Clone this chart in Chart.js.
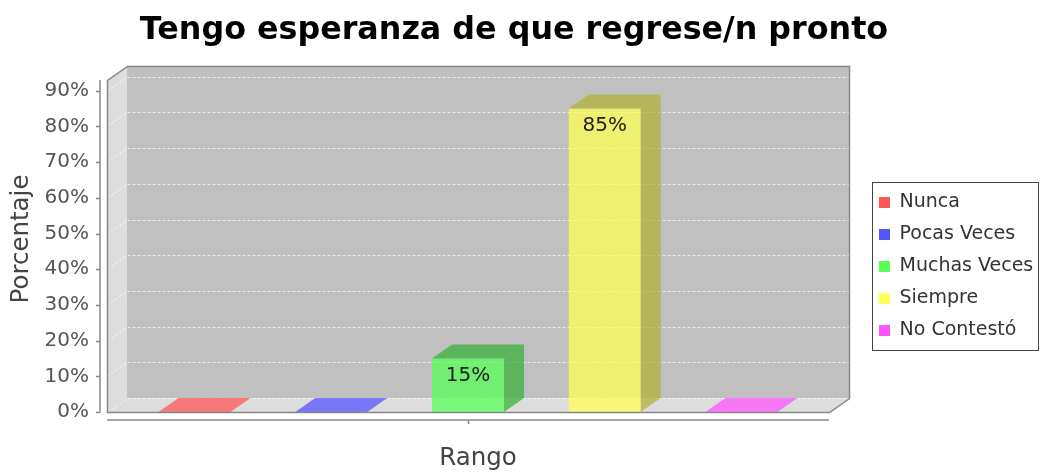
<!DOCTYPE html>
<html>
<head>
<meta charset="utf-8">
<title>Tengo esperanza de que regrese/n pronto</title>
<script src="https://cdn.jsdelivr.net/npm/chart.js@4.4.1/dist/chart.umd.min.js"></script>
<style>
  html, body { margin: 0; padding: 0; background: #fff; }
  #chart { display: block; }
</style>
</head>
<body>
<canvas id="chart" width="1041" height="473"></canvas>
<script>
// --- DATA ---
const chartTitle = 'Tengo esperanza de que regrese/n pronto';
const categories = ['Rango'];
const seriesNames = ['Nunca', 'Pocas Veces', 'Muchas Veces', 'Siempre', 'No Contestó'];
const seriesValues = [0, 0, 15, 85, 0];
const yTicks = [0, 10, 20, 30, 40, 50, 60, 70, 80, 90];
const yAxisTitle = 'Porcentaje';

// --- STYLE ---
const seriesColors = [[255, 85, 85], [85, 85, 255], [85, 255, 85], [255, 255, 85], [255, 85, 255]];
const BAR_ALPHA = 0.75;
const DX = 20, DY = 14;        // depth of the 3D effect
const LEGEND_W = 199;

const rgba = (c, a) => `rgba(${c[0]},${c[1]},${c[2]},${a})`;
const darker = c => c.map(v => Math.floor(v * 0.7));

function poly(ctx, pts) {
    ctx.beginPath();
    pts.forEach((p, i) => i ? ctx.lineTo(p[0], p[1]) : ctx.moveTo(p[0], p[1]));
    ctx.closePath();
}

// Draws the walls, gridlines, bar depth faces, labels and axis lines
const plot3d = {
    id: 'plot3d',
    beforeLayout(chart) {
        const lg = chart.legend;
        if (lg && !lg._fixedFit) {
            const fit = lg.fit;
            lg.fit = function () { fit.call(this); this.width = LEGEND_W; };
            lg._fixedFit = true;
        }
    },
    afterLayout(chart) {
        const lg = chart.legend;
        const w = lg.width, h = lg.height;
        lg.left = Math.round(chart.chartArea.right) + 37;
        lg.right = lg.left + w;
        lg.top = 180;
        lg.bottom = lg.top + h;
    },
    beforeDatasetsDraw(chart) {
        const { ctx, chartArea: a } = chart;
        const ys = chart.scales.y;
        const L = Math.round(a.left), R = Math.round(a.right), T = Math.round(a.top), B = Math.round(a.bottom);
        ctx.save();
        ctx.fillStyle = '#c0c0c0';
        poly(ctx, [[L, T], [L + DX, T - DY], [R + DX, T - DY], [R + DX, B - DY], [R, B], [L, B]]);
        ctx.fill();
        ctx.fillStyle = '#dddddd';
        poly(ctx, [[L, T], [L + DX, T - DY], [L + DX, B - DY], [L, B]]);
        ctx.fill();
        poly(ctx, [[L, B], [L + DX, B - DY], [R + DX, B - DY], [R, B]]);
        ctx.fill();

        ctx.strokeStyle = 'rgba(255,255,255,0.75)';
        ctx.lineWidth = 1;
        ctx.setLineDash([3, 2]);
        ys.ticks.forEach(t => {
            const py = Math.round(ys.getPixelForValue(t.value)) + 0.5;
            ctx.beginPath();
            ctx.moveTo(L, py);
            ctx.lineTo(L + DX, py - DY);
            ctx.lineTo(R + DX, py - DY);
            ctx.stroke();
        });
        ctx.restore();
    },
    afterDatasetsDraw(chart) {
        const { ctx, chartArea: a } = chart;
        const ys = chart.scales.y, xs = chart.scales.x;
        const L = Math.round(a.left), R = Math.round(a.right), T = Math.round(a.top), B = Math.round(a.bottom);
        ctx.save();

        chart.data.datasets.forEach((ds, i) => {
            const meta = chart.getDatasetMeta(i);
            meta.data.forEach((bar, j) => {
                const { x, y, base, width } = bar.getProps(['x', 'y', 'base', 'width'], true);
                const x0 = x - width / 2, x1 = x + width / 2;
                const v = ds.data[j];
                const c = seriesColors[i];
                ctx.fillStyle = v > 0 ? rgba(darker(c), BAR_ALPHA) : rgba(c, BAR_ALPHA);
                poly(ctx, [[x0, y], [x0 + DX, y - DY], [x1 + DX, y - DY], [x1, y]]);
                ctx.fill();
                if (v > 0) {
                    poly(ctx, [[x1, y], [x1 + DX, y - DY], [x1 + DX, base - DY], [x1, base]]);
                    ctx.fill();
                    ctx.fillStyle = '#222';
                    ctx.font = '20px "DejaVu Sans"';
                    ctx.textAlign = 'center';
                    ctx.textBaseline = 'middle';
                    ctx.fillText(v + '%', x, y + 17);
                }
            });
        });

        // plot outline
        ctx.strokeStyle = '#888';
        ctx.lineWidth = 1.5;
        poly(ctx, [[L + 0.5, T + 0.5], [L + DX + 0.5, T - DY + 0.5], [R + DX + 0.5, T - DY + 0.5],
                   [R + DX + 0.5, B - DY + 0.5], [R + 0.5, B + 0.5], [L + 0.5, B + 0.5]]);
        ctx.stroke();

        // value axis line and ticks
        ctx.strokeStyle = '#888';
        ctx.lineWidth = 1.5;
        ctx.beginPath();
        ctx.moveTo(L - 7, T);
        ctx.lineTo(L - 7, B + 0.5);
        ys.ticks.forEach(t => {
            const py = Math.round(ys.getPixelForValue(t.value)) + 0.5;
            ctx.moveTo(L - 11, py);
            ctx.lineTo(L - 7, py);
        });
        // category axis line and tick
        ctx.moveTo(L, B + 8);
        ctx.lineTo(R, B + 8);
        const cx = Math.round(xs.getPixelForValue(0)) + 0.5;
        ctx.moveTo(cx, B + 8);
        ctx.lineTo(cx, B + 12);
        ctx.stroke();

        // value axis title
        ctx.fillStyle = '#444';
        ctx.font = '24.5px "DejaVu Sans"';
        ctx.textAlign = 'center';
        ctx.textBaseline = 'middle';
        ctx.translate(22, (T - DY + B) / 2);
        ctx.rotate(-Math.PI / 2);
        ctx.fillText(yAxisTitle, 0, 0);
        ctx.restore();
    },
    afterDraw(chart) {
        const { ctx } = chart;
        const lg = chart.legend;
        ctx.save();
        ctx.strokeStyle = '#444';
        ctx.lineWidth = 1;
        ctx.strokeRect(lg.left + 6.5, lg.top + 2.5, 166, 168);
        ctx.restore();
    }
};

Chart.defaults.font.family = '"DejaVu Sans", sans-serif';

new Chart(document.getElementById('chart'), {
    type: 'bar',
    data: {
        labels: categories,
        datasets: seriesNames.map((name, i) => ({
            label: name,
            data: [seriesValues[i]],
            backgroundColor: rgba(seriesColors[i], BAR_ALPHA),
            borderWidth: 0,
            barPercentage: 0.5265,
            categoryPercentage: 0.947
        }))
    },
    options: {
        responsive: false,
        animation: false,
        devicePixelRatio: 1,
        layout: { padding: { left: 0, right: 13, top: 0, bottom: 0 } },
        plugins: {
            tooltip: { enabled: false },
            title: {
                display: true,
                text: chartTitle,
                color: '#000',
                font: { size: 31.75, weight: 'bold' },
                padding: { top: 11.65, bottom: 30.25 }
            },
            legend: {
                position: 'right',
                align: 'start',
                labels: {
                    boxWidth: 11,
                    boxHeight: 11,
                    padding: 13,
                    color: '#333',
                    font: { size: 19 },
                    generateLabels(chart) {
                        return chart.data.datasets.map((ds, i) => ({
                            text: ds.label,
                            fillStyle: rgba(seriesColors[i], 1),
                            strokeStyle: rgba(seriesColors[i], 1),
                            lineWidth: 0,
                            fontColor: '#333',
                            hidden: false,
                            datasetIndex: i
                        }));
                    }
                }
            }
        },
        scales: {
            x: {
                type: 'category',
                offset: true,
                grid: { display: false, drawTicks: false },
                border: { display: false },
                ticks: { color: '#444', font: { size: 24.5 }, padding: 31.8, labelOffset: DX / 2 },
                afterFit(s) { s.height = 61; }
            },
            y: {
                min: 0,
                max: 93,
                grid: { display: false, drawTicks: false },
                border: { display: false },
                ticks: {
                    stepSize: 10,
                    includeBounds: false,
                    color: '#555',
                    font: { size: 20 },
                    padding: 18,
                    callback: v => v + '%'
                },
                afterBuildTicks(s) { s.ticks = yTicks.map(v => ({ value: v })); },
                afterFit(s) { s.width = 107; }
            }
        }
    },
    plugins: [plot3d]
});
</script>
</body>
</html>
